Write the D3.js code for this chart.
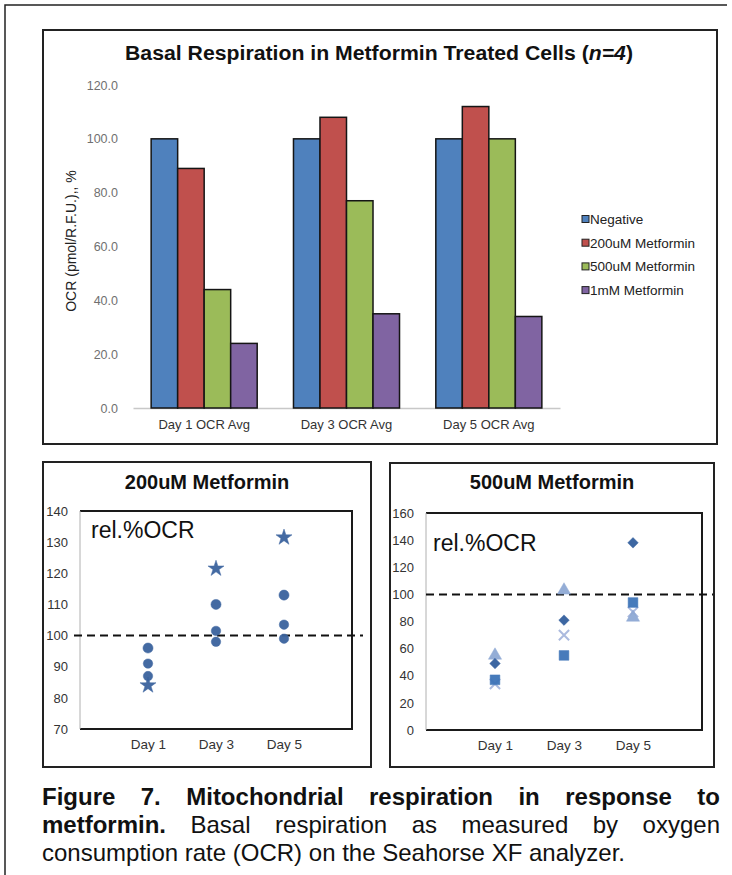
<!DOCTYPE html>
<html>
<head>
<meta charset="utf-8">
<script src="https://cdn.jsdelivr.net/npm/d3@7"></script>
<style>
  body { margin: 0; background: #fff; }
  text { font-family: "Liberation Sans", Arial, sans-serif; }
</style>
</head>
<body>
<script>
// Figure 7 - basal respiration (OCR) with metformin
// top: grouped bars, bottom: two scatter panels, then the caption

// ---- data ----
var groups = ["Day 1 OCR Avg", "Day 3 OCR Avg", "Day 5 OCR Avg"];
var seriesNames = ["Negative", "200uM Metformin", "500uM Metformin", "1mM Metformin"];
var negative = [100, 100, 100];
var met200 = [89, 108, 112];
var met500 = [44, 77, 100];
var met1mM = [24, 35, 34];
var barTicks = [0, 20, 40, 60, 80, 100, 120];

var days = ["Day 1", "Day 3", "Day 5"];
var dayPos = [1, 2, 3];
// 200uM replicates (relative % OCR)
var rep200a = [96, 110, 113];
var rep200b = [91, 98, 103.5];
var rep200c = [87, 101.5, 99];
var rep200d = [84, 121.5, 131.5];
var ticks200 = [70, 80, 90, 100, 110, 120, 130, 140];
// 500uM replicates (relative % OCR)
var rep500a = [49, 81, 138];
var rep500b = [37, 55, 94];
var rep500c = [55, 103, 83];
var rep500d = [34, 70, 87];
var ticks500 = [0, 20, 40, 60, 80, 100, 120, 140, 160];

var captionLine1 = "Figure 7. Mitochondrial respiration in response to";
var captionLine2Bold = "metformin.";
var captionLine2 = "Basal respiration as measured by oxygen";
var captionLine3 = "consumption rate (OCR) on the Seahorse XF analyzer.";

var barColors = ["#4f81bd", "#c0504d", "#9bbb59", "#8064a2"];

var W = 732, H = 875;
var svg = d3.select("body").append("svg")
  .attr("width", W)
  .attr("height", H);

svg.append("rect").attr("width", W).attr("height", H).attr("fill", "#fff");

// outer page frame (top and left edge only)
svg.append("path")
  .attr("d", "M5," + H + "V5H727")
  .attr("fill", "none")
  .attr("stroke", "#222")
  .attr("stroke-width", 1.5);

// ---------------- top bar chart ----------------
svg.append("rect")
  .attr("x", 43).attr("y", 30)
  .attr("width", 674).attr("height", 414)
  .attr("fill", "none")
  .attr("stroke", "#222")
  .attr("stroke-width", 2);

var title = svg.append("text")
  .attr("x", 125).attr("y", 60)
  .attr("font-size", 20)
  .attr("font-weight", "bold")
  .attr("fill", "#111")
  .attr("textLength", 508)
  .attr("lengthAdjust", "spacingAndGlyphs");
title.append("tspan").text("Basal Respiration in Metformin Treated Cells (");
title.append("tspan").attr("font-style", "italic").text("n=4");
title.append("tspan").text(")");

var x0 = d3.scaleBand()
  .domain(groups)
  .range([133, 560])
  .paddingInner(0.255)
  .paddingOuter(0.1275);

var x1 = d3.scaleBand()
  .domain(seriesNames)
  .range([0, x0.bandwidth()]);

var yBar = d3.scaleLinear()
  .domain([0, 120])
  .range([408, 85]);

var barData = [negative, met200, met500, met1mM];

// y axis labels only
var yAxisG = svg.append("g")
  .attr("transform", "translate(121,0)")
  .call(d3.axisLeft(yBar).tickValues(barTicks).tickFormat(d3.format(".1f")).tickSize(0).tickPadding(3));
yAxisG.select(".domain").remove();
yAxisG.selectAll("text")
  .attr("font-family", "Liberation Sans, Arial, sans-serif")
  .attr("font-size", 12.5)
  .attr("fill", "#707070");

// x axis
var xAxisG = svg.append("g")
  .attr("transform", "translate(0,408)")
  .call(d3.axisBottom(x0).tickSize(0).tickSizeOuter(0).tickPadding(12));
xAxisG.select(".domain").attr("stroke", "#c8c8c8").attr("stroke-width", 1.5);
xAxisG.selectAll("text")
  .attr("font-family", "Liberation Sans, Arial, sans-serif")
  .attr("font-size", 13)
  .attr("fill", "#333");

// bars
groups.forEach(function(g, gi) {
  svg.append("g")
    .attr("transform", "translate(" + x0(g) + ",0)")
    .selectAll("rect")
    .data(seriesNames)
    .enter()
    .append("rect")
    .attr("x", function(s) { return x1(s); })
    .attr("y", function(s, i) { return yBar(barData[i][gi]); })
    .attr("width", x1.bandwidth())
    .attr("height", function(s, i) { return yBar(0) - yBar(barData[i][gi]); })
    .attr("fill", function(s, i) { return barColors[i]; })
    .attr("stroke", "#151515")
    .attr("stroke-width", 1.5);
});

// y axis title
svg.append("text")
  .attr("transform", "translate(76,241) rotate(-90)")
  .attr("text-anchor", "middle")
  .attr("font-size", 14)
  .attr("fill", "#222")
  .text("OCR (pmol/R.F.U.),, %");

// legend
var legend = svg.append("g").attr("transform", "translate(582,0)");
seriesNames.forEach(function(s, i) {
  var ly = 219 + i * 23.7;
  legend.append("rect")
    .attr("x", 0).attr("y", ly - 3.5)
    .attr("width", 7).attr("height", 7)
    .attr("fill", barColors[i])
    .attr("stroke", "#222")
    .attr("stroke-width", 1);
  legend.append("text")
    .attr("x", 8).attr("y", ly + 5)
    .attr("font-size", 13.5)
    .attr("fill", "#222")
    .text(s);
});

// ---------------- scatter panels ----------------
function drawPanel(p) {
  var g = svg.append("g");

  g.append("rect")
    .attr("x", p.box[0]).attr("y", p.box[1])
    .attr("width", p.box[2] - p.box[0]).attr("height", p.box[3] - p.box[1])
    .attr("fill", "none")
    .attr("stroke", "#222")
    .attr("stroke-width", 2);

  g.append("text")
    .attr("x", (p.box[0] + p.box[2]) / 2).attr("y", 489)
    .attr("text-anchor", "middle")
    .attr("font-size", 20)
    .attr("font-weight", "bold")
    .attr("fill", "#111")
    .text(p.title);

  var x = d3.scaleLinear().domain([0, 4]).range([p.plot[0], p.plot[2]]);
  var y = d3.scaleLinear().domain(p.yDomain).range([p.plot[3], p.plot[1]]);

  // plot frame: top, right, bottom dark; left axis light
  g.append("path")
    .attr("d", "M" + p.plot[0] + "," + p.plot[1] + "H" + p.plot[2] + "V" + p.plot[3] + "H" + p.plot[0])
    .attr("fill", "none")
    .attr("stroke", "#1a1a1a")
    .attr("stroke-width", 2);
  g.append("line")
    .attr("x1", p.plot[0]).attr("x2", p.plot[0])
    .attr("y1", p.plot[1]).attr("y2", p.plot[3])
    .attr("stroke", "#b0b0b0");

  var ya = g.append("g")
    .attr("transform", "translate(" + p.plot[0] + ",0)")
    .call(d3.axisLeft(y).tickValues(p.ticks).tickSize(0).tickPadding(12));
  ya.select(".domain").remove();
  ya.selectAll("text")
    .attr("font-family", "Liberation Sans, Arial, sans-serif")
    .attr("font-size", 13)
    .attr("fill", "#333");

  var xa = g.append("g")
    .attr("transform", "translate(0," + p.plot[3] + ")")
    .call(d3.axisBottom(x).tickValues(dayPos).tickFormat(function(d, i) { return days[i]; }).tickSize(0).tickPadding(10));
  xa.select(".domain").remove();
  xa.selectAll("text")
    .attr("font-family", "Liberation Sans, Arial, sans-serif")
    .attr("font-size", 13.5)
    .attr("fill", "#333");

  g.append("text")
    .attr("x", p.labelPos[0]).attr("y", p.labelPos[1])
    .attr("font-size", 23)
    .attr("fill", "#111")
    .text("rel.%OCR");

  // 100% reference line
  g.append("line")
    .attr("x1", p.plot[0] - p.dashIn).attr("x2", p.plot[2] + 11)
    .attr("y1", y(100)).attr("y2", y(100))
    .attr("stroke", "#111")
    .attr("stroke-width", 2)
    .attr("stroke-dasharray", "8,5");

  p.series.forEach(function(s) {
    g.selectAll(null)
      .data(s.values)
      .enter()
      .append("path")
      .attr("transform", function(d, i) {
        return "translate(" + x(dayPos[i]) + "," + y(d) + ")" + (s.rotate ? " rotate(" + s.rotate + ")" : "");
      })
      .attr("d", d3.symbol().type(s.type).size(s.size))
      .attr("fill", s.stroke ? "none" : s.color)
      .attr("stroke", s.color)
      .attr("stroke-width", s.stroke ? 2 : 0.5)
      .attr("opacity", 0.95);
  });
}

var timesType = d3.symbolTimes || d3.symbolX;

drawPanel({
  title: "200uM Metformin",
  box: [43, 462, 371, 767],
  plot: [80, 511, 352, 729],
  yDomain: [70, 140],
  ticks: ticks200,
  labelPos: [91, 538],
  dashIn: 6,
  series: [
    { values: rep200a, type: d3.symbolCircle, size: 80, color: "#3a639e" },
    { values: rep200b, type: d3.symbolCircle, size: 70, color: "#3a639e" },
    { values: rep200c, type: d3.symbolCircle, size: 70, color: "#3a639e" },
    { values: rep200d, type: d3.symbolStar, size: 80, color: "#3a639e" }
  ]
});

drawPanel({
  title: "500uM Metformin",
  box: [390, 463, 714, 767],
  plot: [426, 513, 702, 730],
  yDomain: [0, 160],
  ticks: ticks500,
  labelPos: [433, 551],
  dashIn: 0,
  series: [
    { values: rep500d, type: timesType, size: 70, color: "#a7b6dc", stroke: true },
    { values: rep500c, type: d3.symbolTriangle, size: 75, color: "#8fa9d4" },
    { values: rep500b, type: d3.symbolSquare, size: 95, color: "#3e74b8" },
    // Excel style diamond = square turned 45 degrees
    { values: rep500a, type: d3.symbolSquare, size: 55, color: "#335f9e", rotate: 45 }
  ]
});

// ---------------- caption ----------------
function captionLine(words, y, justify) {
  var left = 42, right = 720, fs = 24;
  var nodes = words.map(function(w) {
    return svg.append("text")
      .attr("y", y)
      .attr("font-size", fs)
      .attr("font-weight", w.bold ? "bold" : "normal")
      .attr("fill", "#111")
      .text(w.t);
  });
  var widths = nodes.map(function(n) { return n.node().getComputedTextLength(); });
  var gap = justify ? (right - left - d3.sum(widths)) / (words.length - 1) : fs * 0.278;
  var x = left;
  nodes.forEach(function(n, i) {
    n.attr("x", x);
    x += widths[i] + gap;
  });
}

function toWords(str, bold) {
  return str.split(" ").map(function(t) { return { t: t, bold: bold }; });
}

captionLine(toWords(captionLine1, true), 805, true);
captionLine(toWords(captionLine2Bold, true).concat(toWords(captionLine2, false)), 833, true);
captionLine(toWords(captionLine3, false), 861, false);
</script>
</body>
</html>
